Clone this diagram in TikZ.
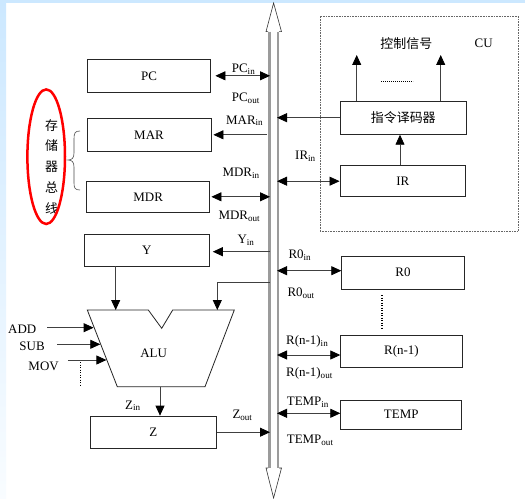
\documentclass[tikz,border=0pt]{standalone}
\usepackage{fontspec}
\setmainfont{Liberation Serif}
\newfontfamily\cjk{Noto Sans CJK SC}
\usetikzlibrary{arrows.meta}
\definecolor{bgblue}{RGB}{204,232,255}
\definecolor{busgray}{RGB}{155,155,155}
\begin{document}
\begin{tikzpicture}[x=1bp,y=-1bp,
 box/.style={draw=black!85,line width=0.8bp,inner sep=0pt,font=\fontsize{13}{14}\selectfont},
 lbl/.style={font=\fontsize{13}{14}\selectfont,inner sep=0pt,anchor=west},
 zh/.style={font=\cjk\fontsize{13}{14}\selectfont,inner sep=0pt},
 ln/.style={draw=black!75,line width=0.8bp},
 tip/.tip={Triangle[length=10bp,width=9bp,color=black]},
 arr/.style={ln,-tip},
 dbl/.style={ln,tip-tip},
 dots/.style={draw=black,line width=1.2bp,dash pattern=on 1.2bp off 1.3bp},
]
\useasboundingbox (0,0) rectangle (525,499);
\fill[white] (0,0) rectangle (525,499);
\fill[bgblue] (0,0) rectangle (525,3);
\shade[top color=bgblue, bottom color=bgblue!12] (0,0) rectangle (6,499);

% bus
\draw[busgray,line width=2.6bp] (269.3,31.7) -- (269.3,468);
\draw[busgray,line width=2.6bp] (277.8,31.7) -- (277.8,468);
\draw[black!80,line width=0.6bp] (268,31.7) -- (266,31.7) -- (273.6,3) -- (281.5,31.7) -- (279,31.7);
\draw[black!80,line width=0.6bp] (268,468) -- (266,468) -- (273.6,498) -- (281.5,468) -- (279,468);
\coordinate (busL) at (270,0);
\coordinate (busR) at (277,0);

% CU
\node[draw=black!60,line width=0.6bp,dash pattern=on 0.8bp off 0.8bp,minimum width=198.3bp,minimum height=215bp,inner sep=0pt] (cu) at (419.2,123.5) {};
\node[zh] (ctl) at (406.3,43.3) {控制信号};
\node[lbl,anchor=center] (culbl) at (483.7,43.3) {CU};

% boxes
\node[box,minimum width=123.4bp,minimum height=33bp] (pc) at (149,75.8) {PC};
\node[box,minimum width=124bp,minimum height=33.7bp] (mar) at (149,134.8) {MAR};
\node[box,minimum width=123bp,minimum height=30.3bp] (mdr) at (148.2,196.8) {MDR};
\node[box,minimum width=124.7bp,minimum height=31.7bp] (y) at (146.7,250.2) {Y};
\node[box,minimum width=126.7bp,minimum height=32.3bp] (z) at (153.3,432.2) {Z};
\node[box,font=\cjk\fontsize{13}{14}\selectfont,minimum width=125.3bp,minimum height=33.3bp] (dec) at (403.3,117.7) {指令译码器};
\node[box,minimum width=125.7bp,minimum height=31bp] (ir) at (402.8,181.2) {IR};
\node[box,minimum width=122.6bp,minimum height=33.3bp] (r0) at (403,272.7) {R0};
\node[box,minimum width=121.6bp,minimum height=32bp] (rn) at (401.5,351.7) {R(n-1)};
\node[box,minimum width=121bp,minimum height=29.3bp] (temp) at (401.2,414.7) {TEMP};

% ALU
\draw[black!85,line width=0.8bp] (87.3,310) -- (148.3,310) -- (161.7,328.3) -- (172.7,310) -- (234.3,310) -- (205,386.7) -- (117.3,386.7) -- cycle;
\node[lbl,anchor=center] (alu) at (153.7,353.3) {ALU};
\coordinate (aluIn1) at (115.7,310);
\coordinate (aluIn2) at (217.3,310);
\coordinate (aluTap) at (270,282.7);
\coordinate (aluOut) at (160,386.7);
\coordinate (e1) at (93.6,327.7);
\coordinate (e2) at (100.3,344.3);
\coordinate (e3) at (106.4,360);

% left-column connectors
\draw[dbl] ([xshift=4.3bp]pc.east) -- (pc.east -| busL);
\draw[arr] ([xshift=-3bp]mar.east -| busL) -- ([xshift=2bp]mar.east);
\draw[dbl] ([xshift=1.3bp]mdr.east) -- (mdr.east -| busL);
\draw[arr] ([yshift=-1.5bp]y.east -| busL) -- ([xshift=3.3bp,yshift=-1.5bp]y.east);
\draw[arr] (z.east) -- (z.east -| busL);
\draw[arr] (aluTap) -- (aluTap -| aluIn2) -- (aluIn2);
\draw[arr] (y.south -| aluIn1) -- (aluIn1);
\draw[arr] (aluOut) -- (aluOut |- z.north);

% operation inputs
\node[lbl] (add) at (8,329.3) {ADD};
\node[lbl] (sub) at (19.3,346.7) {SUB};
\node[lbl] (mov) at (28.3,366.7) {MOV};
\draw[arr] ([xshift=10.7bp]e1 -| add.east) -- (e1);
\draw[arr] ([xshift=12.6bp]e2 -| sub.east) -- (e2);
\draw[arr] ([xshift=9bp]e3 -| mov.east) -- (e3);
\draw[dots] (80.7,362) -- (80.7,385);

% labels left
\node[lbl] (lpcin) at (231.7,69.5) {PC\textsubscript{in}};
\node[lbl] (lpcout) at (231.7,98.3) {PC\textsubscript{out}};
\node[lbl] (lmarin) at (226,120.7) {MAR\textsubscript{in}};
\node[lbl] (lmdrin) at (222.3,173.3) {MDR\textsubscript{in}};
\node[lbl] (lmdrout) at (218.3,216) {MDR\textsubscript{out}};
\node[lbl] (lyin) at (237.3,240) {Y\textsubscript{in}};
\node[lbl] (lzin) at (125,405.7) {Z\textsubscript{in}};
\node[lbl] (lzout) at (232.3,415.3) {Z\textsubscript{out}};

% right connectors
\draw[arr] (dec.west) -- (dec.west -| busR);
\draw[dbl] (ir.west -| busR) -- (ir.west);
\draw[arr] (ir.north -| 400,0) -- (dec.south -| 400,0);
\coordinate (s1) at (356.7,55);
\coordinate (s2) at (440.7,55);
\draw[arr] (s1 |- dec.north) -- (s1);
\draw[arr] (s2 |- dec.north) -- (s2);
\draw[black,line width=0.9bp,dash pattern=on 1bp off 1bp] (381,81) -- (413,81);
\draw[dbl] ([yshift=2bp]r0.west -| busR) -- ([yshift=2bp]r0.west);
\draw[dbl] ([yshift=-3.3bp]rn.west -| busR) -- ([yshift=-3.3bp]rn.west);
\draw[dbl] ([yshift=1.4bp]temp.west -| busR) -- ([yshift=1.4bp]temp.west);
\draw[dots] (382,295) -- (382,329);

% labels right
\node[lbl] (lirin) at (295,156.7) {IR\textsubscript{in}};
\node[lbl] (lr0in) at (288.3,255) {R0\textsubscript{in}};
\node[lbl] (lr0out) at (287.3,293.3) {R0\textsubscript{out}};
\node[lbl] (lrnin) at (286,341) {R(n-1)\textsubscript{in}};
\node[lbl] (lrnout) at (286,373.3) {R(n-1)\textsubscript{out}};
\node[lbl] (ltin) at (286.7,402.3) {TEMP\textsubscript{in}};
\node[lbl] (ltout) at (286.7,440) {TEMP\textsubscript{out}};

% memory bus annotation
\node[zh,align=center,font=\cjk\fontsize{13}{20.8}\selectfont] (mem) at (51.7,166.7) {存\\储\\器\\总\\线};
\draw[red,line width=2.5bp] (46.2,156.7) ellipse [x radius=18.8, y radius=67.3];
\draw[black!70,line width=0.6bp] (80,131) .. controls (75,131) and (74,133) .. (74,139) -- (74,153) .. controls (74,158) and (72,160) .. (68,160) .. controls (72,160) and (74,162) .. (74,167) -- (74,183) .. controls (74,188) and (75,190) .. (80,190);
\end{tikzpicture}
\end{document}
